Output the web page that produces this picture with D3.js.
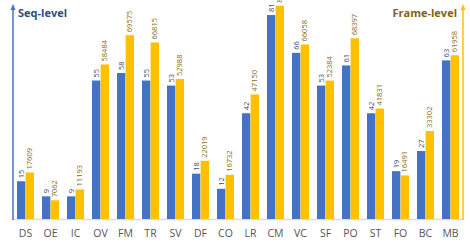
<!DOCTYPE html>
<html>
<head>
<meta charset="utf-8">
<script src="https://cdn.jsdelivr.net/npm/d3@7"></script>
<style>
  body { margin: 0; background: #fff; }
  svg { display: block; font-family: "Open Sans", sans-serif; }
</style>
</head>
<body>
<div id="chart"></div>
<script>
// categories and the two series (seq-level count, frame-level count)
const categories = ["DS","OE","IC","OV","FM","TR","SV","DF","CO","LR","CM","VC","SF","PO","ST","FO","BC","MB"];
const seqLevel   = [15, 9, 9, 55, 58, 55, 53, 18, 12, 42, 81, 66, 53, 61, 42, 19, 27, 63];
const frameLevel = [17609, 7062, 11193, 58484, 69575, 66815, 52988, 22019, 16732, 47150, 80725, 66058, 52384, 68397, 41831, 16491, 33302, 61958];

const w = 470, h = 244;
const x0 = 13, x1 = 463, base = 219, yTop = 5;

const svg = d3.select("#chart").append("svg")
    .attr("width", w)
    .attr("height", h);

const xScale = d3.scaleBand()
    .domain(categories)
    .range([x0, x1])
    .paddingInner(0.3)
    .paddingOuter(0.15);

const inner = d3.scaleBand()
    .domain(["seq", "frame"])
    .range([0, xScale.bandwidth()])
    .padding(0.03);

const ySeq = d3.scaleLinear().domain([0, 85]).range([base, yTop]);
const yFrame = d3.scaleLinear().domain([0, 81000]).range([base, yTop]);

// baseline
svg.append("line")
    .attr("x1", x0).attr("x2", x1)
    .attr("y1", base + 0.5).attr("y2", base + 0.5)
    .attr("stroke", "#d6dce8")
    .attr("stroke-width", 1.5);

const groups = svg.selectAll("g.cat")
    .data(categories.map((c, i) => ({cat: c, s: seqLevel[i], f: frameLevel[i]})))
    .enter().append("g")
    .attr("class", "cat")
    .attr("transform", d => "translate(" + xScale(d.cat) + ",0)");

groups.append("rect")
    .attr("x", inner("seq"))
    .attr("y", d => ySeq(d.s))
    .attr("width", inner.bandwidth())
    .attr("height", d => base - ySeq(d.s))
    .attr("fill", "#4472c4");

groups.append("rect")
    .attr("x", inner("frame"))
    .attr("y", d => yFrame(d.f))
    .attr("width", inner.bandwidth())
    .attr("height", d => base - yFrame(d.f))
    .attr("fill", "#ffc000");

// rotated value labels
groups.append("text")
    .attr("transform", d => "translate(" + (inner("seq") + inner.bandwidth() / 2 + 2.5) + "," + (ySeq(d.s) - 3) + ") rotate(-90)")
    .style("font-size", "7.5px")
    .attr("fill", "#3f4f6e")
    .text(d => d.s);

groups.append("text")
    .attr("transform", d => "translate(" + (inner("frame") + inner.bandwidth() / 2 + 2.5) + "," + (yFrame(d.f) - 3) + ") rotate(-90)")
    .style("font-size", "7.5px")
    .attr("fill", "#8a6d10")
    .text(d => d.f);

// category labels
groups.append("text")
    .attr("x", xScale.bandwidth() / 2)
    .attr("y", 237)
    .attr("text-anchor", "middle")
    .style("font-size", "10.5px")
    .attr("fill", "#555")
    .text(d => d.cat);

// axes with arrows
function arrowAxis(x, color) {
    svg.append("line")
        .attr("x1", x).attr("x2", x)
        .attr("y1", base + 1).attr("y2", yTop + 3)
        .attr("stroke", color)
        .attr("stroke-width", 1.5);
    svg.append("path")
        .attr("d", "M" + (x - 2.5) + "," + (yTop + 5) + " L" + x + "," + (yTop - 1) + " L" + (x + 2.5) + "," + (yTop + 5) + "Z")
        .attr("fill", color);
}
arrowAxis(x0, "#4472c4");
arrowAxis(x1, "#ffc000");

svg.append("text")
    .attr("x", 18).attr("y", 17)
    .style("font-size", "11px")
    .style("font-weight", "bold")
    .attr("fill", "#2f4e7e")
    .text("Seq-level");

svg.append("text")
    .attr("x", 457).attr("y", 17)
    .attr("text-anchor", "end")
    .style("font-size", "11px")
    .style("font-weight", "bold")
    .attr("fill", "#7f6410")
    .text("Frame-level");
</script>
</body>
</html>
